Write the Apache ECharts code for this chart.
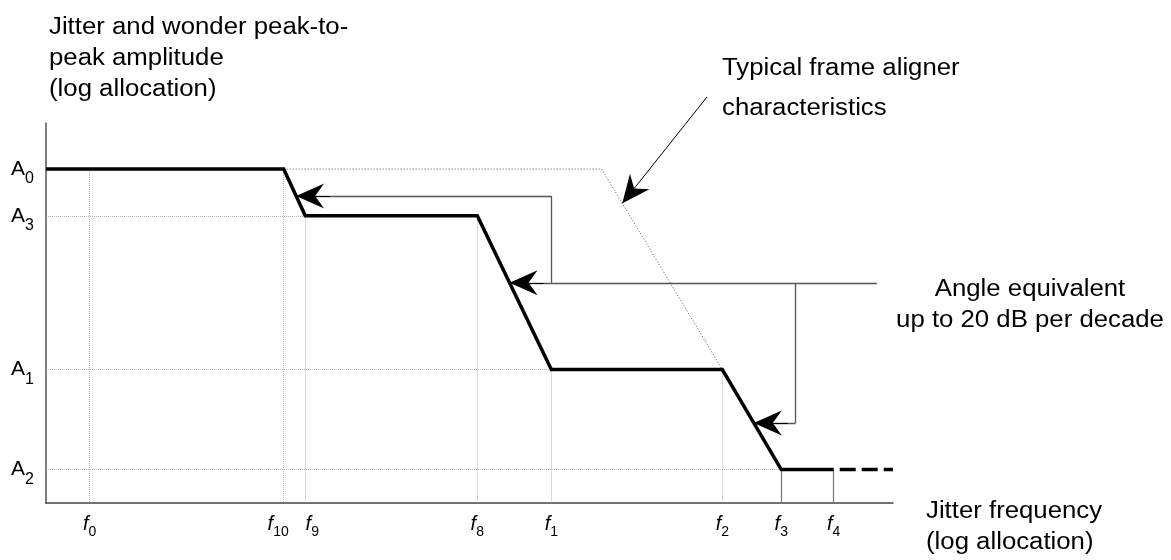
<!DOCTYPE html>
<html>
<head>
<meta charset="utf-8">
<script src="https://cdn.jsdelivr.net/npm/echarts@6/dist/echarts.min.js"></script>
<style>html,body{margin:0;padding:0;background:#fff}#c{width:1171px;height:560px}</style>
</head>
<body>
<div id="c"></div>
<script>
// ---- data (log-allocated positions, 0..100 on each axis) ----
const freqSubs = ['0', '10', '9', '8', '1', '2', '3', '4'];
const freqPos = [5.16, 28.06, 30.61, 50.92, 59.66, 79.85, 86.81, 93.0];
const ampSubs = ['0', '3', '1', '2'];
const ampPos = [87.88, 75.59, 35.13, 8.80];

// jitter/wander tolerance mask (bold line)
const maskX = [0, 28.06, 30.61, 50.92, 59.66, 79.85, 86.81, 93.0];
const maskY = [87.88, 87.88, 75.59, 75.59, 35.13, 35.13, 8.80, 8.80];
// continuation beyond f4 (dashed)
const extX = [93.0, 100];
const extY = [8.80, 8.80];
// typical frame aligner characteristic (dotted)
const alignX = [28.06, 65.6, 79.85];
const alignY = [87.88, 87.88, 35.13];

// guide drop lines: vertical from (x,y) to axis, horizontal from axis to (x,y)
const vGuideX = [5.16, 28.06, 30.61, 50.92, 59.66, 79.85];
const vGuideY = [87.88, 87.88, 75.59, 75.59, 35.13, 35.13];
const hGuideX = [28.06, 30.61, 59.66, 86.81];
const hGuideY = [87.88, 75.59, 35.13, 8.80];
const solidDropX = [86.81, 93.0];
const solidDropY = [8.80, 8.80];

// "angle equivalent" connector
const connMainY = 57.94;      // main horizontal row
const connRightX = 98.1;      // right end of main row
const connUpX = 59.66;        // branch going up
const connUpY = 80.8;
const connDownX = 88.5;       // branch going down
const connDownY = 21.07;

// callout pointer of the frame aligner curve
const calloutStartPx = [707, 97];
const calloutTipY = 78.85;

// ---- helpers ----
function xAtY(xs, ys, y) {
  for (let i = 0; i < xs.length - 1; i++) {
    const y0 = ys[i], y1 = ys[i + 1];
    if (y0 !== y1 && ((y <= y0 && y >= y1) || (y >= y0 && y <= y1))) {
      return xs[i] + (y - y0) / (y1 - y0) * (xs[i + 1] - xs[i]);
    }
  }
  return null;
}
const zip = (a, b) => a.map((v, i) => [v, b[i]]);
const FONT = '"Liberation Sans", Arial, sans-serif';
const ARROW = 'path://M12.5,0 L25,28 L12.5,19 L0,28 Z';

const tip1 = xAtY(maskX, maskY, connUpY);
const tip2 = xAtY(maskX, maskY, connMainY);
const tip3 = xAtY(maskX, maskY, connDownY);
const calloutTipX = xAtY(alignX, alignY, calloutTipY);

const guideStyle = { color: '#b5b5b5', width: 1, type: [1, 1] };
const guideLines = [];
vGuideX.forEach((x, i) => guideLines.push([{ coord: [x, vGuideY[i]] }, { coord: [x, 0] }]));
hGuideX.forEach((x, i) => guideLines.push([{ coord: [0, hGuideY[i]] }, { coord: [x, hGuideY[i]] }]));
const solidDrops = solidDropX.map((x, i) => [{ coord: [x, solidDropY[i]] }, { coord: [x, 0] }]);

const connectorLines = [
  [{ coord: [connRightX, connMainY] }, { coord: [tip2, connMainY] }],
  [{ coord: [connUpX, connMainY] }, { coord: [connUpX, connUpY] }],
  [{ coord: [connUpX, connUpY] }, { coord: [tip1, connUpY] }],
  [{ coord: [connDownX, connMainY] }, { coord: [connDownX, connDownY] }],
  [{ coord: [connDownX, connDownY] }, { coord: [tip3, connDownY] }]
];
const arrowHeads = [
  [{ coord: [tip1 + 4, connUpY] }, { coord: [tip1, connUpY] }],
  [{ coord: [tip2 + 4, connMainY] }, { coord: [tip2, connMainY] }],
  [{ coord: [tip3 + 4, connDownY] }, { coord: [tip3, connDownY] }],
  [{ x: calloutStartPx[0], y: calloutStartPx[1] }, { coord: [calloutTipX, calloutTipY] }]
];

function markLineOf(data, style, withArrow) {
  const ml = {
    silent: true,
    animation: false,
    symbol: withArrow ? ['none', ARROW] : ['none', 'none'],
    symbolSize: withArrow ? [25, 28] : 0,
    label: { show: false },
    emphasis: { disabled: true },
    lineStyle: style,
    data: data
  };
  if (withArrow) ml.symbolOffset = [[0, 0], [0, 14]];
  return ml;
}

const chart = echarts.init(document.getElementById('c'), null, { renderer: 'canvas' });
chart.setOption({
  animation: false,
  backgroundColor: '#ffffff',
  grid: { left: 46, right: 278, top: 123, bottom: 57, containLabel: false },
  xAxis: {
    type: 'value', min: 0, max: 100,
    splitLine: { show: false },
    axisTick: { show: false },
    axisLine: { show: true, lineStyle: { color: '#444', width: 1.5 } },
    axisLabel: {
      show: true,
      customValues: freqPos,
      margin: 10,
      formatter: function (v) {
        const i = freqPos.findIndex(p => Math.abs(p - v) < 1e-6);
        if (i < 0) return '';
        const s = freqSubs[i];
        if (s === '10') return '{f|f}{s|' + s + '}{gr| }';
        if (s === '9') return '{gl| }{f|f}{s|' + s + '}';
        return '{f|f}{s|' + s + '}';
      },
      rich: {
        f: { fontFamily: FONT, fontSize: 20, fontStyle: 'italic', color: '#000', lineHeight: 22 },
        s: { fontFamily: FONT, fontSize: 14, color: '#000', lineHeight: 14, padding: [16, 0, 0, 0] },
        gl: { width: 14, fontSize: 10, lineHeight: 10 },
        gr: { width: 11, fontSize: 10, lineHeight: 10 }
      }
    }
  },
  yAxis: {
    type: 'value', min: 0, max: 100,
    splitLine: { show: false },
    axisTick: { show: false },
    axisLine: { show: true, lineStyle: { color: '#555', width: 1.5 } },
    axisLabel: {
      show: true,
      customValues: ampPos,
      margin: 12,
      formatter: function (v) {
        const i = ampPos.findIndex(p => Math.abs(p - v) < 1e-6);
        if (i < 0) return '';
        return '{a|A}{s|' + ampSubs[i] + '}';
      },
      rich: {
        a: { fontFamily: FONT, fontSize: 21, color: '#000', lineHeight: 22 },
        s: { fontFamily: FONT, fontSize: 16, color: '#000', lineHeight: 16, padding: [20, 0, 0, 0] }
      }
    }
  },
  series: [
    { type: 'line', name: 'guides', data: [], z: 1, markLine: markLineOf(guideLines, guideStyle, false) },
    { type: 'line', name: 'drops', data: [], z: 2, markLine: markLineOf(solidDrops, { color: '#777', width: 1.2, type: 'solid' }, false) },
    { type: 'line', name: 'connectors', data: [], z: 3, markLine: markLineOf(connectorLines, { color: '#555', width: 1.3, type: 'solid' }, false) },
    { type: 'line', name: 'arrows', data: [], z: 6, markLine: markLineOf(arrowHeads, { color: '#000', width: 1, type: 'solid' }, true) },
    {
      type: 'line', name: 'Typical frame aligner', data: zip(alignX, alignY), z: 2,
      symbol: 'none', silent: true, clip: false,
      lineStyle: { color: '#555', width: 1, type: [1, 2] }
    },
    {
      type: 'line', name: 'Mask', data: zip(maskX, maskY), z: 5,
      symbol: 'none', silent: true, clip: false,
      lineStyle: { color: '#000', width: 3.5, join: 'miter' }
    },
    {
      type: 'line', name: 'Extension', data: zip(extX, extY), z: 5,
      symbol: 'none', silent: true, clip: false,
      lineStyle: { color: '#000', width: 3.5, type: [16, 6], dashOffset: 16 }
    }
  ],
  graphic: [
    {
      type: 'text', x: 49, y: 12, scaleX: 1.12, silent: true,
      style: { text: 'Jitter and wonder peak-to-\npeak amplitude\n(log allocation)', fontFamily: FONT, fontSize: 23, lineHeight: 31, fill: '#000', align: 'left', verticalAlign: 'top' }
    },
    {
      type: 'text', x: 722, y: 49, scaleX: 1.12, silent: true,
      style: { text: 'Typical frame aligner\ncharacteristics', fontFamily: FONT, fontSize: 23, lineHeight: 40, fill: '#000', align: 'left', verticalAlign: 'top' }
    },
    {
      type: 'text', x: 1030, y: 274, scaleX: 1.12, silent: true,
      style: { text: 'Angle equivalent\nup to 20 dB per decade', fontFamily: FONT, fontSize: 23, lineHeight: 31, fill: '#000', align: 'center', verticalAlign: 'top' }
    },
    {
      type: 'text', x: 926, y: 496, scaleX: 1.12, silent: true,
      style: { text: 'Jitter frequency\n(log allocation)', fontFamily: FONT, fontSize: 23, lineHeight: 31, fill: '#000', align: 'left', verticalAlign: 'top' }
    }
  ]
});
</script>
</body>
</html>
